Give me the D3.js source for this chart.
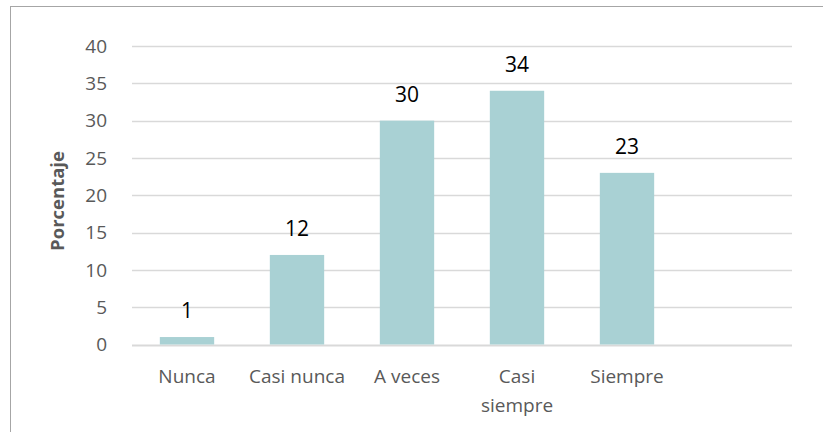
<!DOCTYPE html>
<html>
<head>
<meta charset="utf-8">
<script src="https://cdn.jsdelivr.net/npm/d3@7"></script>
<style>
  body { margin: 0; background: #fff; }
  text { font-family: "Open Sans", sans-serif; }
</style>
</head>
<body>
<div id="chart"></div>
<script>
// data
var categories = ["Nunca", "Casi nunca", "A veces", "Casi siempre", "Siempre", ""];
var values     = [1, 12, 30, 34, 23, null];
var yTicks     = [0, 5, 10, 15, 20, 25, 30, 35, 40];
var yTitle     = "Porcentaje";

var width = 823, height = 432;
var plot = { left: 132, right: 792, top: 46, bottom: 344.5 };

var svg = d3.select("#chart")
  .append("svg")
  .attr("width", width)
  .attr("height", height);

// outer border (cut off at right / bottom like the reference)
svg.append("rect")
  .attr("x", 10.5)
  .attr("y", 6.5)
  .attr("width", 830)
  .attr("height", 440)
  .style("fill", "none")
  .style("stroke", "#a6a6a6")
  .style("stroke-width", "1px");

var x = d3.scaleBand()
  .domain(d3.range(categories.length))
  .range([plot.left, plot.right])
  .paddingInner(0.506)
  .paddingOuter(0.253);

var y = d3.scaleLinear()
  .domain([0, 40])
  .range([plot.bottom, plot.top]);

// gridlines
svg.selectAll("line.grid")
  .data(yTicks)
  .enter()
  .append("line")
  .attr("class", "grid")
  .attr("x1", plot.left)
  .attr("x2", plot.right)
  .attr("y1", function(d) { return Math.round(y(d)) + 0.5; })
  .attr("y2", function(d) { return Math.round(y(d)) + 0.5; })
  .style("stroke", "#d9d9d9")
  .style("stroke-width", function(d) { return d === 0 ? "2px" : "1.3px"; });

// y tick labels
svg.selectAll("text.ytick")
  .data(yTicks)
  .enter()
  .append("text")
  .attr("class", "ytick")
  .attr("x", 107)
  .attr("y", function(d) { return y(d); })
  .attr("dy", "0.36em")
  .attr("text-anchor", "end")
  .attr("font-size", 19)
  .style("fill", "#595959")
  .text(function(d) { return d; });

// bars
var barData = values.map(function(v, i) { return { i: i, v: v }; })
  .filter(function(d) { return d.v !== null; });

svg.selectAll("rect.bar")
  .data(barData)
  .enter()
  .append("rect")
  .attr("class", "bar")
  .attr("x", function(d) { return x(d.i); })
  .attr("width", x.bandwidth())
  .attr("y", function(d) { return y(d.v); })
  .attr("height", function(d) { return y(0) - y(d.v); })
  .style("fill", "#a9d1d4");

// value labels
svg.selectAll("text.value")
  .data(barData)
  .enter()
  .append("text")
  .attr("class", "value")
  .attr("x", function(d) { return x(d.i) + x.bandwidth() / 2; })
  .attr("y", function(d) { return y(d.v) - 19; })
  .attr("text-anchor", "middle")
  .attr("font-size", 21)
  .style("fill", "#000")
  .text(function(d) { return d.v; });

// category labels, "Casi siempre" wraps to two lines
var wrapped = { "Casi siempre": ["Casi", "siempre"] };
var catLabels = svg.selectAll("text.cat")
  .data(categories.map(function(c, i) { return { i: i, c: c }; }))
  .enter()
  .append("text")
  .attr("class", "cat")
  .attr("x", function(d) { return x(d.i) + x.bandwidth() / 2; })
  .attr("y", 383)
  .attr("text-anchor", "middle")
  .attr("font-size", 19)
  .style("fill", "#595959");

catLabels.each(function(d) {
  var lines = wrapped[d.c] || [d.c];
  var t = d3.select(this);
  lines.forEach(function(l, k) {
    t.append("tspan")
      .attr("x", x(d.i) + x.bandwidth() / 2)
      .attr("dy", k === 0 ? 0 : 29)
      .text(l);
  });
});

// y axis title
svg.append("text")
  .attr("transform", "translate(64,201) rotate(-90)")
  .attr("text-anchor", "middle")
  .attr("font-size", 18.5)
  .attr("font-weight", "bold")
  .style("fill", "#595959")
  .text(yTitle);
</script>
</body>
</html>
